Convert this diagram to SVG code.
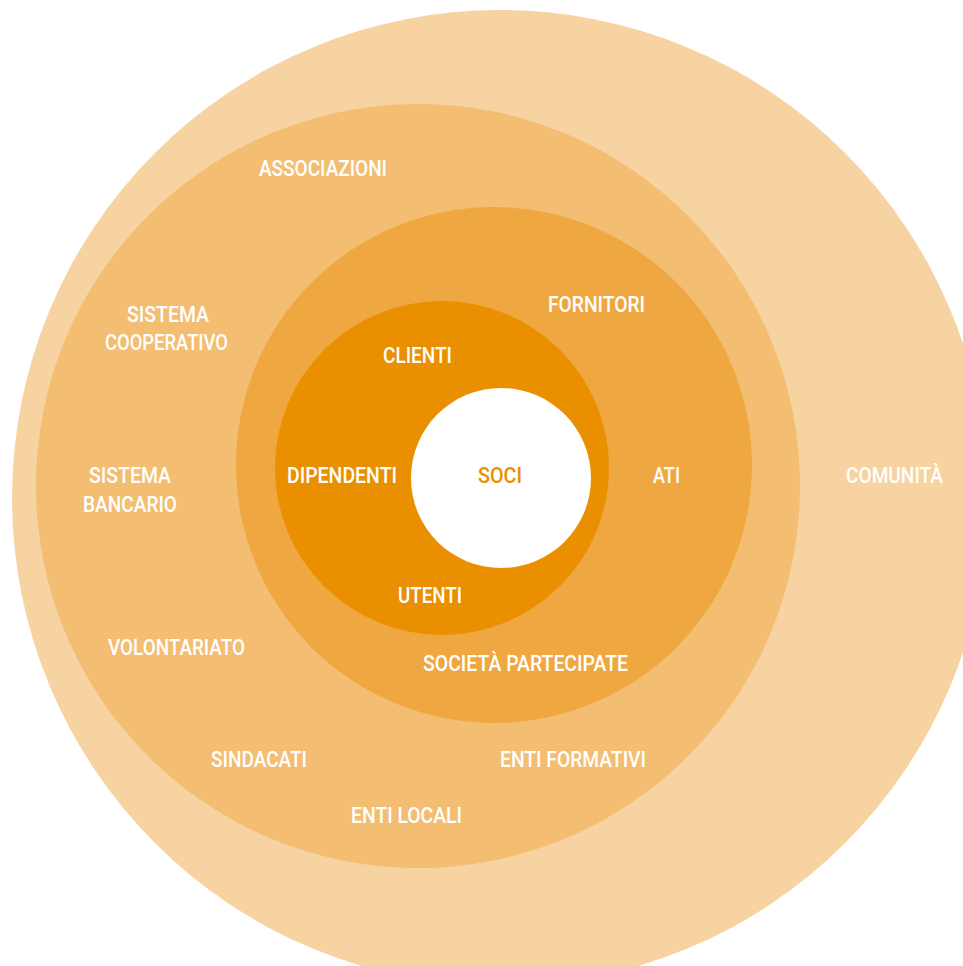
<svg xmlns="http://www.w3.org/2000/svg" width="963" height="966" viewBox="0 0 963 966">
<style>
.t{font-family:Roboto,"Liberation Sans",Arial,sans-serif;font-weight:500;font-size:22.5px;fill:#ffffff;text-anchor:middle}
.o{fill:#EA8F00}
</style>
<rect width="963" height="966" fill="#ffffff"/>
<g id="ring-comunita">
<circle cx="500" cy="498" r="488" fill="#F7D3A1"/>
<text class="t" x="894.5" y="483" textLength="97" lengthAdjust="spacingAndGlyphs">COMUNITÀ</text>
</g>
<g id="ring-esterni">
<circle cx="418" cy="486" r="382" fill="#F3BD72"/>
<text class="t" x="323" y="176" textLength="128" lengthAdjust="spacingAndGlyphs">ASSOCIAZIONI</text>
<text class="t" x="168" y="322" textLength="82" lengthAdjust="spacingAndGlyphs">SISTEMA</text>
<text class="t" x="166.5" y="350" textLength="123" lengthAdjust="spacingAndGlyphs">COOPERATIVO</text>
<text class="t" x="130" y="483" textLength="82" lengthAdjust="spacingAndGlyphs">SISTEMA</text>
<text class="t" x="130" y="512" textLength="94" lengthAdjust="spacingAndGlyphs">BANCARIO</text>
<text class="t" x="176.5" y="655" textLength="137" lengthAdjust="spacingAndGlyphs">VOLONTARIATO</text>
<text class="t" x="259" y="767" textLength="96" lengthAdjust="spacingAndGlyphs">SINDACATI</text>
<text class="t" x="573" y="767" textLength="146" lengthAdjust="spacingAndGlyphs">ENTI FORMATIVI</text>
<text class="t" x="406.5" y="823" textLength="111" lengthAdjust="spacingAndGlyphs">ENTI LOCALI</text>
</g>
<g id="ring-partner">
<circle cx="494" cy="465" r="258" fill="#EFA741"/>
<text class="t" x="596.5" y="312" textLength="97" lengthAdjust="spacingAndGlyphs">FORNITORI</text>
<text class="t" x="666.5" y="483" textLength="27" lengthAdjust="spacingAndGlyphs">ATI</text>
<text class="t" x="525.5" y="671" textLength="205" lengthAdjust="spacingAndGlyphs">SOCIETÀ PARTECIPATE</text>
</g>
<g id="ring-interni">
<circle cx="442" cy="468" r="167" fill="#EA8F00"/>
<text class="t" x="417.5" y="363" textLength="69" lengthAdjust="spacingAndGlyphs">CLIENTI</text>
<text class="t" x="342" y="483" textLength="110" lengthAdjust="spacingAndGlyphs">DIPENDENTI</text>
<text class="t" x="430" y="603" textLength="64" lengthAdjust="spacingAndGlyphs">UTENTI</text>
</g>
<g id="soci">
<circle cx="501" cy="478" r="90" fill="#ffffff"/>
<text class="t o" x="500" y="483" textLength="44" lengthAdjust="spacingAndGlyphs">SOCI</text>
</g>
</svg>
